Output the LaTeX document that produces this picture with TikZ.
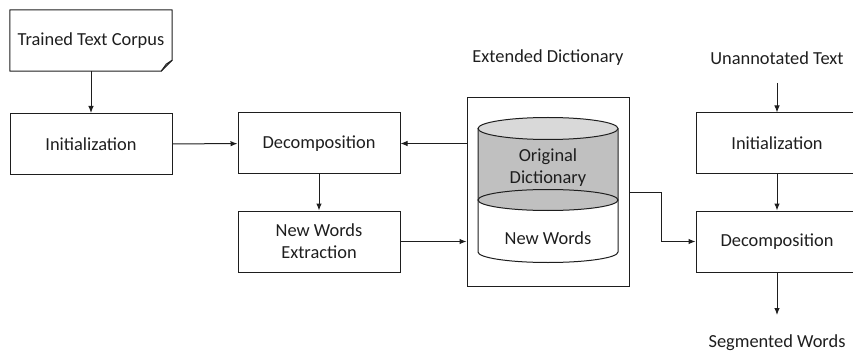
\documentclass[tikz,border=0pt]{standalone}
\usepackage{fontspec}
\setmainfont{Carlito}
\usetikzlibrary{arrows.meta}
\definecolor{dbbody}{HTML}{C0C0C0}
\definecolor{dbtop}{HTML}{D9D9D9}
\definecolor{ink}{HTML}{1E1E1E}
\tikzset{
  every node/.style={font=\fontsize{18.4}{22}\selectfont, text=ink},
  proc/.style={draw=ink, line width=1pt, minimum width=162pt, minimum height=61pt, align=center, inner sep=0pt},
  plain/.style={inner sep=0pt, align=center},
  flow/.style={draw=ink, line width=1pt, -{Latex[length=7pt,width=5.5pt]}},
  edge/.style={draw=ink, line width=1pt}
}
\begin{document}
\begin{tikzpicture}[x=1pt, y=-1pt]
\useasboundingbox (0,0) rectangle (853,358);

% training corpus (note shape with folded corner)
\node[plain, minimum width=162pt, minimum height=61pt] (corpus) at (91,40.5) {Trained Text Corpus};
\draw[edge, line join=round] (corpus.north west) -- (corpus.north east) -- ([yshift=11pt]corpus.south east)
  -- ([xshift=-11pt]corpus.south east) -- (corpus.south west) -- cycle;
\draw[edge, line join=round] ([yshift=11pt]corpus.south east) -- ([xshift=-6pt,yshift=7pt]corpus.south east)
  -- ([xshift=-11pt]corpus.south east);

% training pipeline
\node[proc] (init1) at (91,144) {Initialization};
\node[proc] (dec1) at (319,143.5) {Decomposition};
\node[proc] (nwe) at (319,241.5) {New Words\\Extraction};

% extended dictionary
\node[plain] (extlbl) at (548,58) {Extended Dictionary};
\node[proc, minimum height=188pt] (dict) at (548,192) {};

% cylinder: original dictionary on top of new words
\fill[dbbody] (478,128.5) rectangle (618,200);
\fill[white] (478,200) rectangle (618,252);
\fill[white] (478,252) arc[start angle=180, end angle=360, x radius=70pt, y radius=10.5pt];
\draw[edge] (478,128.5) -- (478,252) arc[start angle=180, end angle=360, x radius=70pt, y radius=10.5pt] -- (618,128.5);
\draw[edge, fill=dbbody] (548,200) ellipse[x radius=70pt, y radius=10.5pt];
\draw[edge, fill=dbtop] (548,128.5) ellipse[x radius=70pt, y radius=11pt];
\node[plain] (orig) at (548,168) {Original\\Dictionary};
\node[plain] (neww) at (548,238.5) {New Words};

% segmentation pipeline
\node[plain] (unann) at (777,58) {Unannotated Text};
\coordinate (unannfoot) at (777,83);
\node[proc] (init2) at (777,143.5) {Initialization};
\node[proc] (dec2) at (777,241.5) {Decomposition};
\coordinate (segtop) at (777,315);
\node[plain] (seg) at (777,343) {Segmented Words};

% connectors
\draw[flow] (corpus) -- (init1);
\draw[flow] (init1) -- (dec1);
\draw[flow] (dict.west |- dec1.east) -- (dec1.east);
\draw[flow] (dec1) -- (nwe);
\draw[flow] (nwe.east) -- (dict.west |- nwe.east);
\draw[flow] (dict.east) -- ++(32,0) |- (dec2.west);
\draw[flow] (unannfoot) -- (init2.north);
\draw[flow] (init2) -- (dec2);
\draw[flow] (dec2.south) -- (segtop);
\end{tikzpicture}
\end{document}
